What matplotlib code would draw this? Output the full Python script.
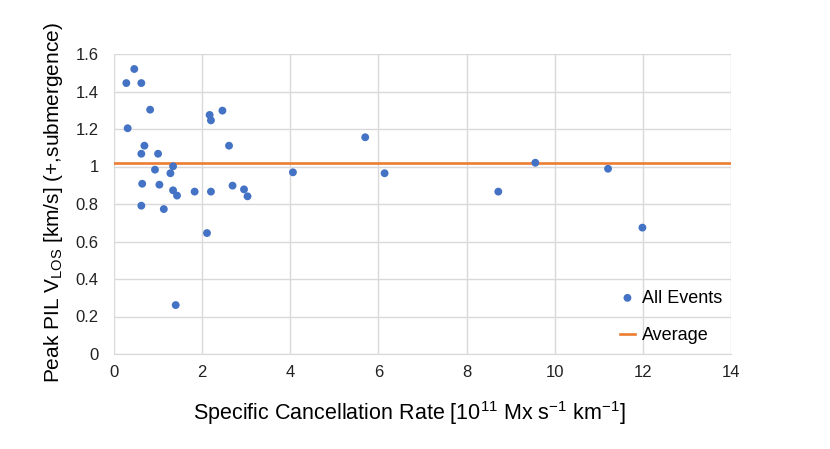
"""Peak PIL V_LOS versus specific cancellation rate (scatter + average line)."""

import matplotlib
matplotlib.use("Agg")
import matplotlib.pyplot as plt

plt.rcParams["font.family"] = ["Liberation Sans", "DejaVu Sans"]
plt.rcParams["mathtext.fontset"] = "custom"
plt.rcParams["mathtext.rm"] = "Liberation Sans"

# Data
cancel_rate = [0.46, 0.28, 0.62, 0.82, 0.31, 2.17, 2.20, 2.46, 0.69, 2.61,
               0.62, 1.00, 1.34, 0.93, 1.28, 4.06, 0.64, 1.03, 1.34, 1.43,
               1.83, 2.20, 2.69, 2.95, 3.03, 0.62, 1.13, 2.11, 1.40,
               5.70, 6.14, 8.72, 9.56, 11.21, 11.99]
peak_vlos = [1.52, 1.445, 1.445, 1.303, 1.204, 1.275, 1.246, 1.298, 1.111, 1.111,
             1.068, 1.068, 1.001, 0.983, 0.964, 0.969, 0.908, 0.903, 0.873, 0.845,
             0.866, 0.866, 0.898, 0.878, 0.841, 0.791, 0.773, 0.645, 0.261,
             1.156, 0.964, 0.866, 1.020, 0.988, 0.674]
average_vlos = 1.019
x_ticks = [0, 2, 4, 6, 8, 10, 12, 14]
y_ticks = [0, 0.2, 0.4, 0.6, 0.8, 1, 1.2, 1.4, 1.6]
y_tick_labels = ["0", "0.2", "0.4", "0.6", "0.8", "1", "1.2", "1.4", "1.6"]

fig = plt.figure(figsize=(8.3, 4.49), dpi=100)
ax = fig.add_axes([114 / 830, 95 / 449, 617 / 830, 300 / 449])

ax.scatter(cancel_rate, peak_vlos, s=32, color="#4472C4", edgecolors="none",
           zorder=3, label="All Events")
ax.axhline(average_vlos, color="#ED7D31", linewidth=1.9, zorder=2, label="Average")

ax.set_xlim(0, 14)
ax.set_ylim(0, 1.6)
ax.set_xticks(x_ticks)
ax.set_yticks(y_ticks)
ax.set_yticklabels(y_tick_labels)
ax.grid(True, color="#d9d9d9", linewidth=1.0)
ax.set_axisbelow(True)
for side in ["top", "right", "left"]:
    ax.spines[side].set_visible(False)
ax.spines["bottom"].set_color("#d9d9d9")
ax.tick_params(length=0, labelsize=12, colors="#222222")
ax.tick_params(axis="y", pad=11)
ax.tick_params(axis="x", pad=8)

ax.set_xlabel(r"Specific Cancellation Rate [10$^{11}$ Mx s$^{-1}$ km$^{-1}$]",
              fontsize=15.5)
ax.xaxis.set_label_coords(0.479, -0.15)
ax.set_ylabel(r"Peak PIL V$_{\rm LOS}$ [km/s] (+,submergence)", fontsize=15)
ax.yaxis.set_label_coords(-0.079, 0.503)

ax.legend(loc="lower right", bbox_to_anchor=(1.012, -0.022), frameon=False,
          fontsize=13, labelspacing=1.15, handlelength=0.8, handletextpad=0.4,
          markerscale=1.0)

fig.savefig("out.png", dpi=100)
plt.close(fig)
